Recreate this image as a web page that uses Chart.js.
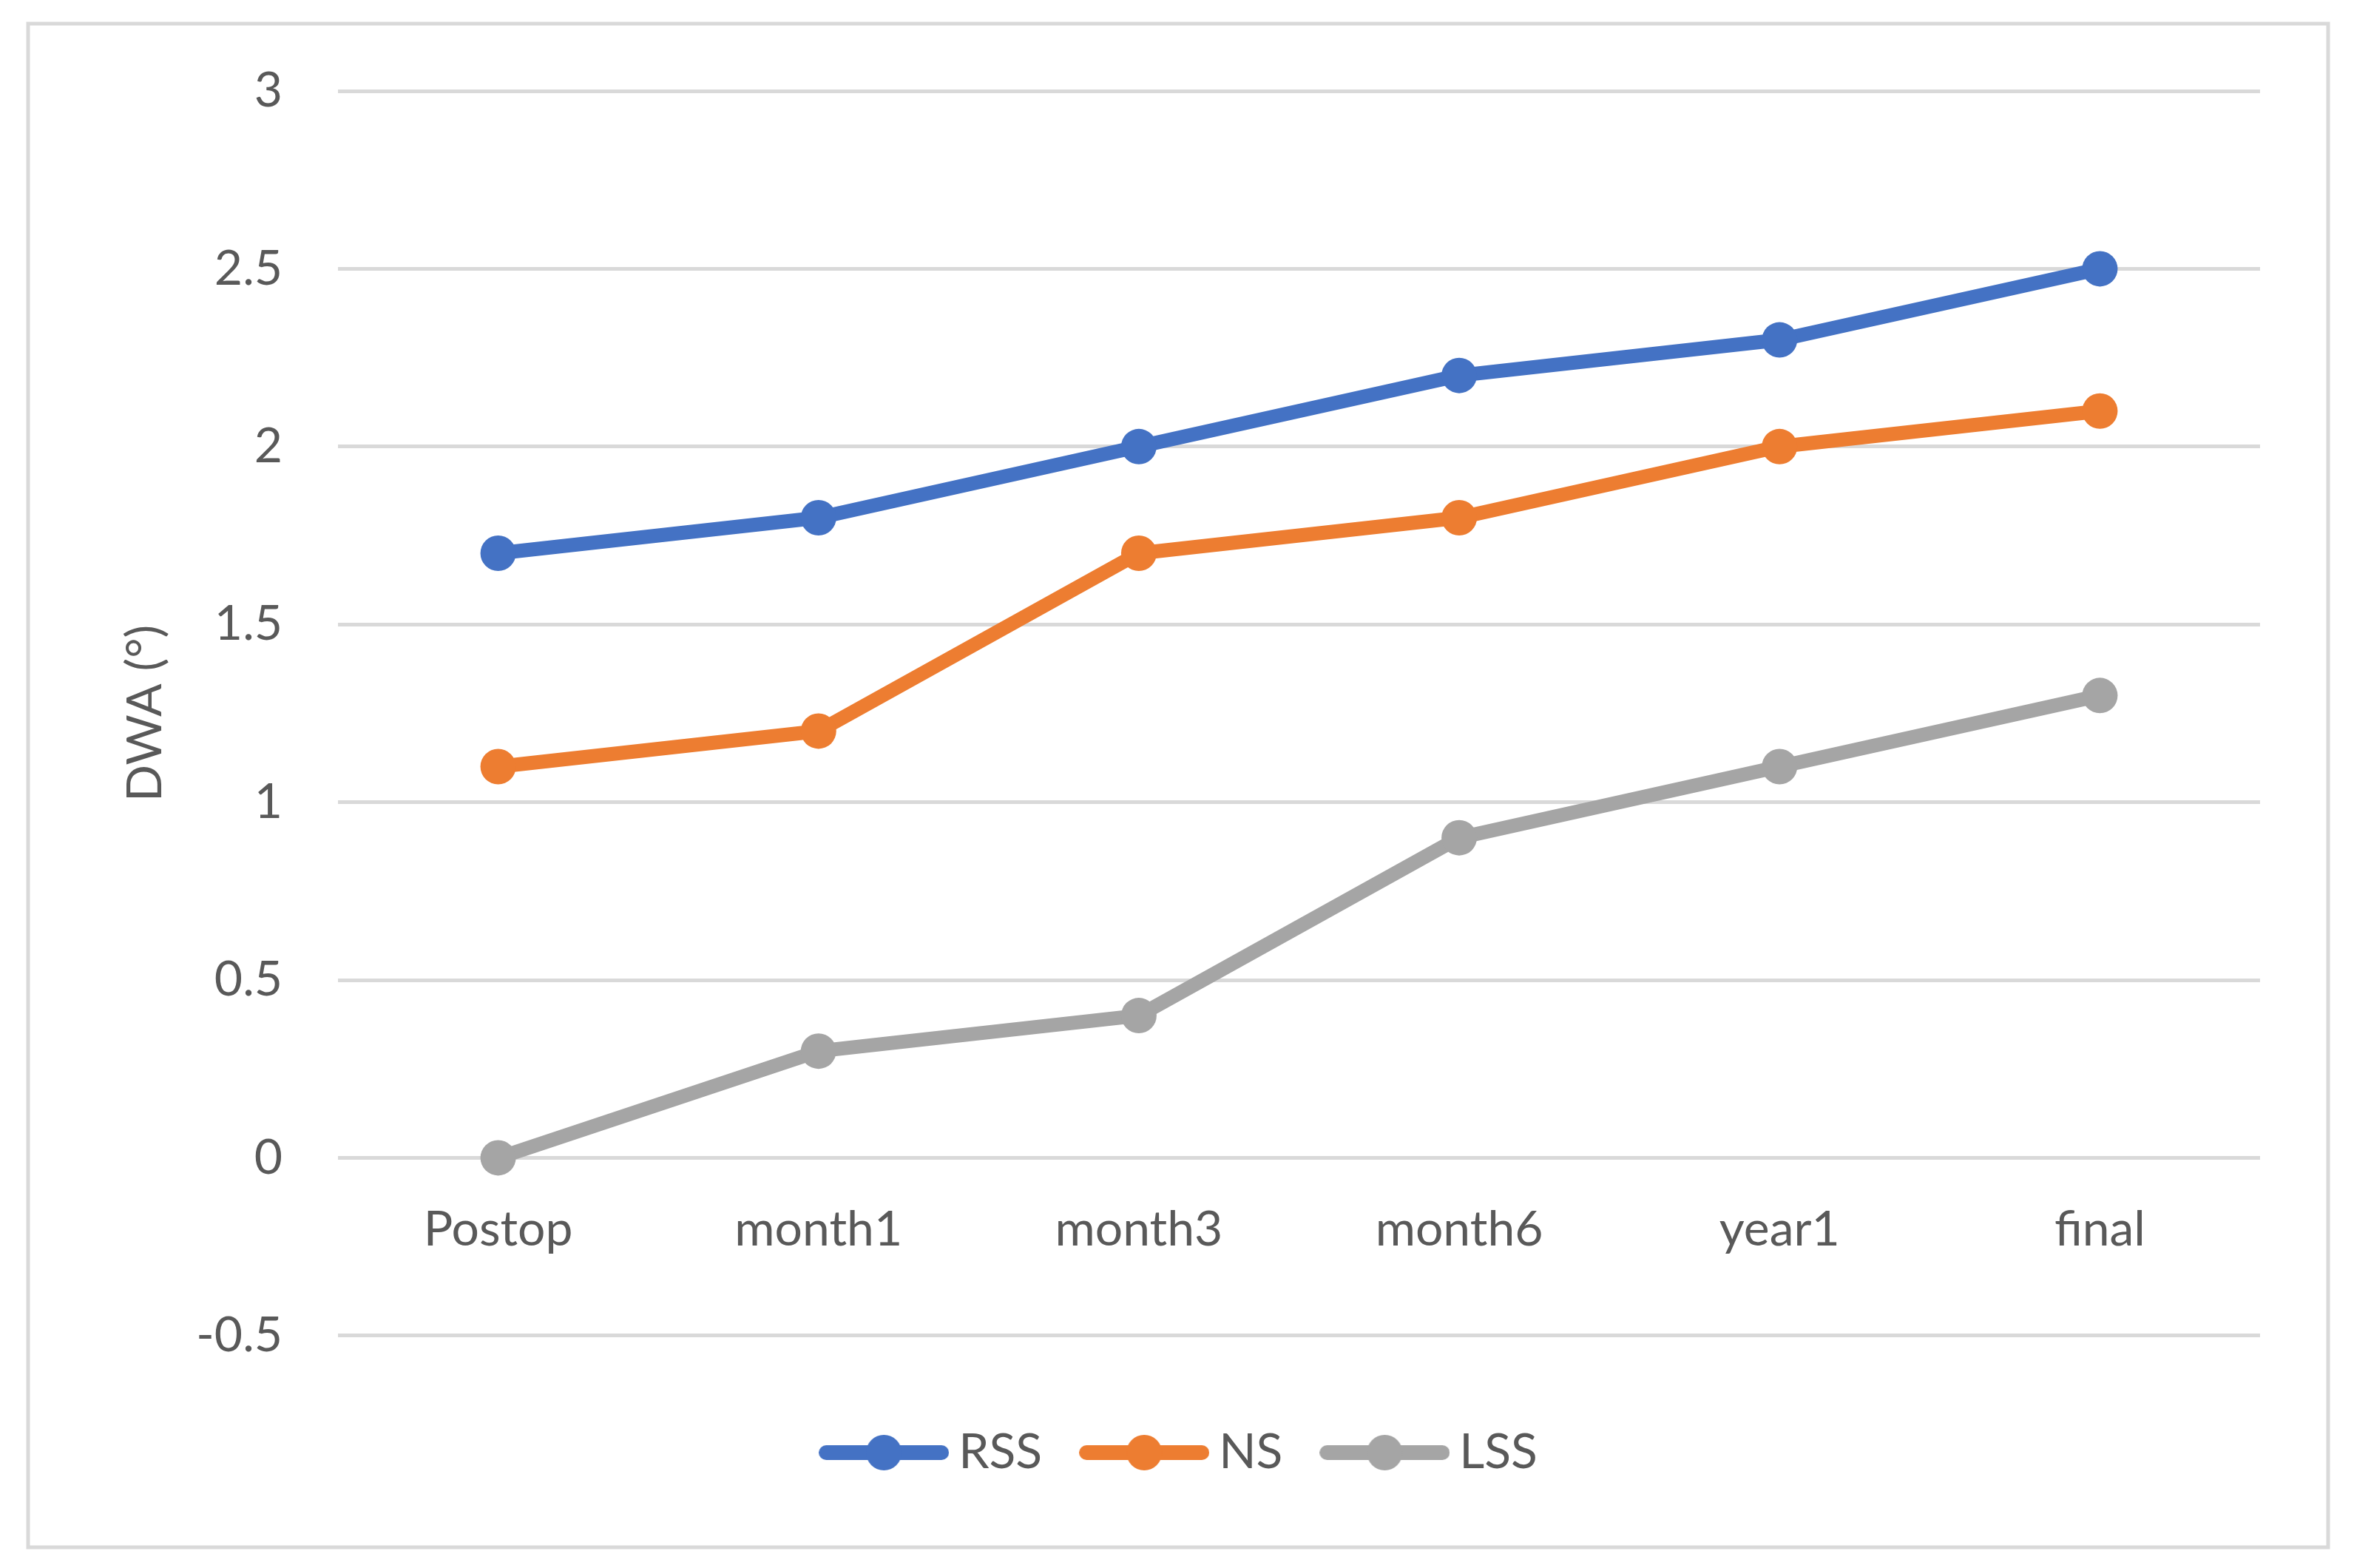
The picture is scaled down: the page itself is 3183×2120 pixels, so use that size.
<!DOCTYPE html>
<html>
<head>
<meta charset="utf-8">
<script src="https://cdn.jsdelivr.net/npm/chart.js@4/dist/chart.umd.min.js"></script>
<style>
  html, body { margin: 0; padding: 0; background: #ffffff; }
  #wrap { width: 3183px; height: 2120px; position: relative; }
</style>
</head>
<body>
<div id="wrap"><canvas id="c"></canvas></div>
<script>
const categories = ['Postop', 'month1', 'month3', 'month6', 'year1', 'final'];
const seriesNames = ['RSS', 'NS', 'LSS'];
const rssValues = [1.7, 1.8, 2.0, 2.2, 2.3, 2.5];
const nsValues  = [1.1, 1.2, 1.7, 1.8, 2.0, 2.1];
const lssValues = [0, 0.3, 0.4, 0.9, 1.1, 1.3];
const yMin = -0.5, yMax = 3, yStep = 0.5;
const yTitle = 'DWA (°)';

const colors = ['#4472C4', '#ED7D31', '#A5A5A5'];
const FONT = 'Lato, "Open Sans", sans-serif';
const TXT = '#595959';
const GRID = '#D9D9D9';

function legendIcon(color) {
  const cv = document.createElement('canvas');
  cv.width = 176; cv.height = 50;
  const g = cv.getContext('2d');
  g.strokeStyle = color; g.lineWidth = 20; g.lineCap = 'round';
  g.beginPath(); g.moveTo(10, 25); g.lineTo(166, 25); g.stroke();
  g.fillStyle = color;
  g.beginPath(); g.arc(88, 25, 24, 0, Math.PI * 2); g.fill();
  return cv;
}
const icons = colors.map(legendIcon);

const frame = {
  id: 'frame',
  beforeDraw(chart) {
    const ctx = chart.ctx;
    ctx.save();
    ctx.fillStyle = '#ffffff';
    ctx.fillRect(0, 0, chart.width, chart.height);
    ctx.strokeStyle = GRID; ctx.lineWidth = 5;
    ctx.strokeRect(38, 32, 3110, 2060);
    ctx.restore();
  }
};

const allValues = [rssValues, nsValues, lssValues];
new Chart(document.getElementById('c'), {
  type: 'line',
  data: {
    labels: categories,
    datasets: seriesNames.map((n, i) => ({
      label: n,
      data: allValues[i],
      borderColor: colors[i],
      backgroundColor: colors[i],
      borderWidth: 19,
      pointRadius: 24,
      pointHoverRadius: 24,
      pointBorderWidth: 0,
      pointBackgroundColor: colors[i],
      tension: 0,
      borderCapStyle: 'round',
      borderJoinStyle: 'round'
    }))
  },
  options: {
    responsive: true,
    maintainAspectRatio: false,
    animation: false,
    devicePixelRatio: 1,
    layout: { padding: { left: 150, right: 127, top: 123, bottom: 113 } },
    plugins: {
      tooltip: { enabled: false },
      legend: {
        position: 'bottom',
        title: { display: true, text: '', padding: 0, font: { size: 46, family: FONT, lineHeight: 1.2 } },
        labels: {
          usePointStyle: true,
          pointStyleWidth: 136,
          padding: 70,
          color: TXT,
          font: { size: 66, family: FONT },
          generateLabels(chart) {
            const items = Chart.defaults.plugins.legend.labels.generateLabels(chart);
            items.forEach((it) => { it.pointStyle = icons[it.datasetIndex]; });
            return items;
          }
        }
      }
    },
    scales: {
      x: {
        type: 'category',
        position: { y: 0 },
        offset: true,
        grid: { display: false, drawTicks: false },
        border: { display: false },
        ticks: { color: TXT, font: { size: 66, family: FONT }, padding: 58, maxRotation: 0 }
      },
      y: {
        min: yMin, max: yMax,
        grid: { color: GRID, lineWidth: 5, drawTicks: false },
        border: { display: false },
        ticks: {
          stepSize: yStep, color: TXT, font: { size: 66, family: FONT }, padding: 75,
          callback: (v) => String(Math.round(v * 10) / 10)
        },
        title: { display: true, text: yTitle, color: TXT, font: { size: 66, family: FONT }, padding: { top: 7, bottom: 0 } },
        afterFit(scale) { scale.width = 307; }
      }
    }
  },
  plugins: [frame]
});
</script>
</body>
</html>
